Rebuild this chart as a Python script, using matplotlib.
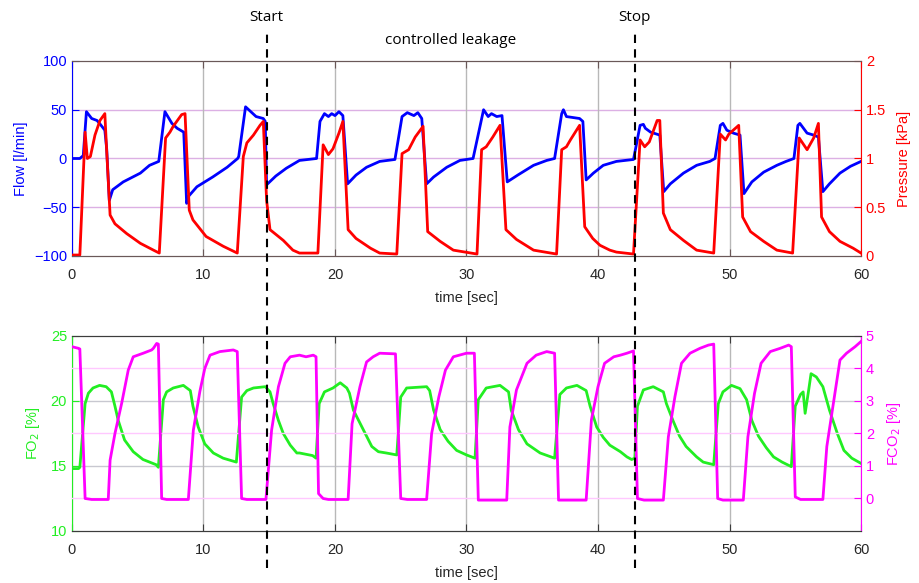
"""Flow / pressure and gas fractions during a controlled leakage test."""
import matplotlib
matplotlib.use("Agg")
import matplotlib.pyplot as plt
from matplotlib.lines import Line2D
from matplotlib.transforms import blended_transform_factory

# --- data (time in sec) ---
flow_t = [0, 0.6, 0.86, 1.1, 1.5, 1.9, 2.1, 2.5, 2.64, 2.84, 3.1, 3.9, 5.2, 5.9, 6.6,
          7.07, 7.6, 8.0, 8.5, 8.72, 8.85, 9.5, 10.7, 11.8, 12.6, 12.68, 13.2, 13.6, 14.0,
          14.55, 14.7, 14.8, 15.5, 16.3, 17.3, 18.6, 18.86, 19.2, 19.5, 19.75, 20.0, 20.3,
          20.6, 20.96, 21.6, 22.4, 23.4, 24.56, 25.1, 25.5, 26.0, 26.3, 26.6, 26.97, 27.5,
          28.5, 29.5, 30.5, 31.3, 31.65, 31.9, 32.3, 32.7, 33.1, 33.9, 35.1, 36.1, 36.7,
          37.24, 37.37, 37.6, 38.6, 38.85, 39.1, 39.65, 40.4, 41.4, 42.7, 43.2, 43.45, 43.6,
          44.0, 44.7, 45.0, 45.5, 46.5, 47.5, 48.5, 48.9, 49.3, 49.5, 49.8, 50.3, 50.8, 51.1,
          51.7, 52.6, 53.6, 54.3, 54.9, 55.2, 55.35, 55.9, 56.4, 56.76, 57.1, 57.6, 58.4,
          59.2, 60]
flow_v = [0, 0, 3, 48, 41, 39, 36, 29, 10, -43, -32, -24, -15, -7, -3,
          48, 36, 31, 27, -46, -39, -29, -19, -9, 0, 2, 53, 48, 43,
          41, 38, -27, -18, -10, -2, 0, 38, 46, 43, 46, 44, 48,
          44, -26, -17, -9, -3, -1, 43, 47, 44, 47, 41, -26, -19,
          -9, -2, 0, 50, 43, 46, 43, 44, -24, -17, -7, -2, 0,
          46, 50, 43, 41, 38, -22, -15, -7, -3, -1, 34, 35, 31,
          27, 24, -34, -26, -15, -7, -3, 0, 34, 36, 29, 26, 24, -36,
          -24, -14, -7, -3, 0, 34, 36, 26, 24, 22, -34, -26, -15,
          -8, -3]

pres_t = [0, 0.6, 1.0, 1.17, 1.4, 1.75, 2.13, 2.5, 2.64, 2.9, 3.27, 4.16, 5.2, 6.2, 6.64,
          7.12, 7.45, 7.7, 8.34, 8.6, 8.92, 9.2, 10.2, 11.5, 12.57, 13.03, 13.3, 13.8, 14.3,
          14.55, 14.8, 15.06, 16.07, 16.8, 17.3, 18.7, 19.1, 19.5, 19.85, 20.3, 20.6, 21.0,
          21.6, 22.7, 23.4, 24.7, 25.1, 25.6, 26.1, 26.7, 27.05, 28.0, 29.0, 30.8, 31.15,
          31.5, 32.0, 32.55, 33.0, 33.8, 35.1, 36.85, 37.24, 37.6, 37.9, 38.6, 38.99, 39.6,
          40.15, 40.9, 41.4, 42.7, 43.2, 43.55, 43.9, 44.5, 44.7, 44.97, 45.5, 46.5, 47.5,
          48.8, 49.3, 49.7, 49.95, 50.7, 51.0, 51.6, 52.6, 53.6, 54.8, 55.3, 55.9, 56.4,
          56.76, 57.0, 57.6, 58.4, 59.4, 60]
pres_v = [0.01, 0.01, 1.27, 1.0, 1.02, 1.24, 1.39, 1.46, 1.08, 0.42, 0.33, 0.23, 0.13, 0.06, 0.03,
          1.21, 1.27, 1.33, 1.45, 1.46, 0.47, 0.37, 0.2, 0.1, 0.03, 1.02, 1.16, 1.24, 1.34,
          1.38, 0.57, 0.27, 0.16, 0.06, 0.03, 0.03, 1.14, 1.04, 1.1, 1.26, 1.38, 0.27,
          0.18, 0.08, 0.03, 0.02, 1.05, 1.09, 1.22, 1.33, 0.25, 0.15, 0.06, 0.02, 1.09,
          1.12, 1.22, 1.34, 0.27, 0.17, 0.06, 0.02, 1.09, 1.12, 1.19, 1.34, 0.3, 0.18,
          0.11, 0.06, 0.04, 0.02, 1.19, 1.12, 1.17, 1.39, 1.39, 0.44, 0.27, 0.16, 0.06,
          0.03, 1.25, 1.19, 1.25, 1.34, 0.4, 0.25, 0.15, 0.06, 0.03, 1.21, 1.09, 1.21,
          1.36, 0.4, 0.25, 0.15, 0.08, 0.03]

fo2_t = [0, 0.5, 0.6, 1.0, 1.25, 1.6, 2.1, 2.6, 3.0, 3.27, 3.52, 4.0, 4.66, 5.4, 6.4, 6.57,
         6.95, 7.2, 7.7, 8.47, 9.0, 9.2, 9.6, 10.1, 10.75, 11.5, 12.5, 12.9, 13.3, 13.8,
         14.7, 15.06, 15.3, 15.7, 16.07, 16.6, 17.1, 17.3, 17.8, 18.3, 18.56, 18.8, 19.2,
         19.85, 20.4, 20.9, 21.1, 21.4, 21.9, 22.4, 22.8, 23.3, 23.9, 24.7, 25.0, 25.45,
         26.97, 27.2, 27.5, 28.0, 28.6, 29.25, 30.0, 30.65, 30.9, 31.5, 32.55, 33.2, 33.4,
         33.95, 34.6, 35.6, 36.7, 37.1, 37.6, 38.4, 39.1, 39.4, 39.9, 40.4, 40.9, 41.7,
         42.2, 42.56, 42.8, 43.0, 43.45, 44.2, 44.97, 45.2, 45.7, 46.2, 46.7, 47.5, 48.0,
         48.8, 49.15, 49.5, 50.15, 50.8, 51.3, 51.7, 52.2, 52.8, 53.35, 54.0, 54.7, 55.0,
         55.4, 55.6, 55.75, 56.0, 56.2, 56.6, 57.1, 57.6, 58.2, 58.7, 59.3, 60]
fo2_v = [14.8, 14.8, 14.9, 19.8, 20.6, 21.0, 21.2, 21.1, 20.7, 19.6, 18.5, 17.0, 16.1, 15.5, 15.1, 14.9,
         20.1, 20.7, 21.0, 21.2, 20.8, 19.6, 18.0, 16.7, 16.0, 15.6, 15.3, 20.3, 20.8, 21.0,
         21.1, 20.7, 19.8, 18.5, 17.5, 16.6, 16.0, 16.0, 15.9, 15.8, 15.6, 19.8, 20.7,
         21.0, 21.4, 21.0, 20.6, 19.3, 18.3, 17.3, 16.5, 16.1, 16.0, 15.85, 20.3, 21.0,
         21.1, 20.8, 19.3, 17.8, 16.9, 16.2, 15.85, 15.6, 20.1, 21.0, 21.2, 20.7, 19.3,
         17.8, 16.7, 16.0, 15.6, 20.5, 21.0, 21.2, 20.8, 19.6, 18.0, 17.2, 16.6, 16.1,
         15.7, 15.5, 15.6, 19.6, 20.85, 21.1, 20.7, 19.8, 18.5, 17.3, 16.5, 15.7, 15.3,
         15.1, 19.8, 20.7, 21.2, 20.95, 20.1, 18.5, 17.3, 16.4, 15.7, 15.3, 14.95, 19.6,
         20.5, 20.7, 19.05, 20.7, 22.1, 21.85, 21.1, 19.3, 17.5, 16.2, 15.6, 15.2]

fco2_t = [0, 0.5, 0.6, 1.0, 1.5, 2.76, 2.9, 3.27, 3.78, 4.28, 4.66, 5.42, 6.06, 6.19, 6.44,
          6.57, 6.82, 7.2, 8.85, 9.23, 9.73, 10.1, 10.5, 11.25, 12.27, 12.57, 12.9, 13.3,
          14.75, 15.18, 15.7, 16.2, 16.6, 17.3, 17.8, 18.35, 18.56, 18.75, 19.1, 19.5, 21.0,
          21.3, 21.9, 22.4, 22.9, 23.4, 24.6, 25.0, 25.5, 26.97, 27.35, 27.9, 28.4, 29.0,
          30.0, 30.6, 30.9, 33.06, 33.3, 33.8, 34.6, 35.3, 36.1, 36.7, 37.0, 39.1, 39.5,
          40.0, 40.5, 41.2, 41.7, 42.2, 42.7, 43.0, 43.5, 44.97, 45.35, 45.85, 46.35, 47.0,
          47.75, 48.4, 48.8, 49.1, 49.5, 51.05, 51.4, 51.9, 52.4, 53.1, 53.85, 54.5, 54.7,
          55.0, 55.4, 57.1, 57.4, 57.9, 58.4, 58.9, 59.55, 60]
fco2_v = [4.67, 4.62, 4.6, 0.0, -0.03, -0.03, 1.18, 2.0, 2.93, 3.95, 4.36, 4.47, 4.57, 4.62, 4.77,
          4.75, 0.0, -0.03, -0.03, 2.1, 3.3, 4.0, 4.41, 4.52, 4.57, 4.52, 0.0, -0.03,
          -0.03, 2.1, 3.44, 4.16, 4.36, 4.41, 4.36, 4.41, 4.36, 0.15, 0.0, -0.03, -0.03,
          2.3, 3.44, 4.2, 4.36, 4.47, 4.45, 0.0, -0.03, -0.03, 2.0, 3.13, 3.95, 4.36,
          4.47, 4.47, -0.05, -0.05, 2.2, 3.34, 4.16, 4.41, 4.52, 4.47, -0.05, -0.05, 2.42,
          3.44, 4.16, 4.36, 4.41, 4.47, 4.54, 0.0, -0.05, -0.05, 1.9, 3.13, 4.16, 4.47,
          4.62, 4.72, 4.75, 0.0, -0.05, -0.05, 1.9, 3.23, 4.16, 4.52, 4.62, 4.72, 4.67,
          0.05, -0.03, -0.03, 1.6, 2.93, 4.26, 4.47, 4.67, 4.83]

x_ticks = [0, 10, 20, 30, 40, 50, 60]
event_t = [14.8, 42.8]
event_names = ["Start", "Stop"]

BLUE, RED, GREEN, MAG = "#0000ff", "#ff0000", "#22ee22", "#ff00ff"
TXT = "#262626"

plt.rcParams["font.family"] = ["Liberation Sans", "DejaVu Sans"]
plt.rcParams["font.size"] = 10.5

fig = plt.figure(figsize=(9.19, 5.83), dpi=100)
ax1 = fig.add_axes([0.0783, 0.5609, 0.8586, 0.3345])
ax3 = fig.add_axes([0.0783, 0.0892, 0.8586, 0.3345])
ax2 = ax1.twinx()
ax4 = ax3.twinx()


def style_pair(left, right, lcol, rcol, frame):
    for a in (left, right):
        a.set_xlim(0, 60)
        a.set_xticks(x_ticks)
        a.tick_params(axis="x", direction="in", length=5, top=True, colors=frame,
                      labelcolor=TXT, labelsize=10.5, pad=9)
        a.spines["top"].set_color(frame)
        a.spines["bottom"].set_color(frame)
    left.spines["left"].set_color(lcol)
    left.spines["right"].set_visible(False)
    right.spines["right"].set_color(rcol)
    right.spines["left"].set_visible(False)
    left.tick_params(axis="y", direction="in", length=5, colors=lcol, labelcolor=lcol)
    right.tick_params(axis="y", direction="in", length=5, colors=rcol, labelcolor=rcol)
    left.grid(True, axis="x", color="#b8b8b8", lw=1.0)
    left.set_xlabel("time [sec]", color=TXT, labelpad=6)


# top: flow + pressure
ax1.plot(flow_t, flow_v, color=BLUE, lw=2.0)
ax1.set_ylim(-100, 100)
ax1.set_yticks([-100, -50, 0, 50, 100])
ax1.set_ylabel("Flow [l/min]", color=BLUE, labelpad=4)
ax2.plot(pres_t, pres_v, color=RED, lw=2.0)
ax2.set_ylim(0, 2)
ax2.set_yticks([0, 0.5, 1, 1.5, 2])
ax2.set_yticklabels(["0", "0.5", "1", "1.5", "2"])
ax2.set_ylabel("Pressure [kPa]", color=RED, labelpad=8)
style_pair(ax1, ax2, BLUE, RED, "#6a5858")
for v in [-50, 0, 50]:
    ax1.axhline(v, color="#dcb0e4", lw=1.0, zorder=0)

# bottom: FO2 + FCO2
ax3.plot(fo2_t, fo2_v, color=GREEN, lw=2.0)
ax3.set_ylim(10, 25)
ax3.set_yticks([10, 15, 20, 25])
ax3.set_ylabel("FO$_2$ [%]", color=GREEN, labelpad=6)
ax4.plot(fco2_t, fco2_v, color=MAG, lw=2.0)
ax4.set_ylim(-1, 5)
ax4.set_yticks([0, 1, 2, 3, 4, 5])
ax4.set_ylabel("FCO$_2$ [%]", color=MAG, labelpad=8)
style_pair(ax3, ax4, GREEN, MAG, "#3c3c3c")
for v in [15, 20]:
    ax3.axhline(v, color="#c8c8d0", lw=1.0, zorder=0)
for v in [0, 2, 4]:
    ax4.axhline(v, color="#ffc8ff", lw=1.0, zorder=0)
ax4.set_zorder(ax3.get_zorder() + 1)

# event markers across the whole figure
trans = blended_transform_factory(ax1.transData, fig.transFigure)
for t, name in zip(event_t, event_names):
    fig.add_artist(Line2D([t, t], [0.026, 0.948], transform=trans, color="black",
                          lw=1.5, ls=(0, (4, 3))))
    fig.text(t, 0.970, name, transform=trans, ha="center", va="center",
             fontsize=11, family=["Open Sans", "DejaVu Sans"], color="black")
fig.text(sum(event_t) / 2, 0.931, "controlled leakage", transform=trans, ha="center",
         va="center", fontsize=11, family=["Open Sans", "DejaVu Sans"], color="black")

fig.savefig("out.png", dpi=100)
